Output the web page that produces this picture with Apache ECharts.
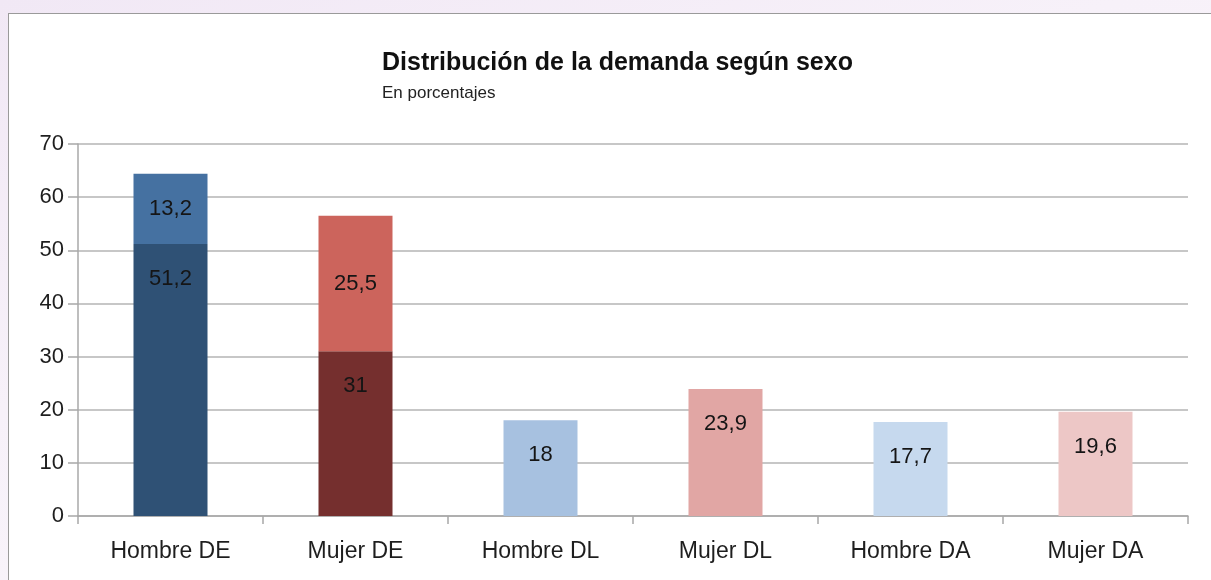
<!DOCTYPE html>
<html>
<head>
<meta charset="utf-8">
<title>Distribución de la demanda según sexo</title>
<script src="https://cdn.jsdelivr.net/npm/echarts@6/dist/echarts.min.js"></script>
<style>
  html, body { margin: 0; padding: 0; width: 1211px; height: 580px; overflow: hidden; }
  body { background: linear-gradient(160deg, #f1e8f5 0%, #f7f1f9 40%, #fbf8fc 100%); position: relative; }
  #panel { position: absolute; left: 8px; top: 13px; width: 1230px; height: 600px; background: #fff; border: 1px solid #9a9a9a; }
  #chart { position: absolute; left: 0; top: 0; width: 1211px; height: 580px; }
</style>
</head>
<body>
<div id="panel"></div>
<div id="chart"></div>
<script>
// datos
const categories = ["Hombre DE", "Mujer DE", "Hombre DL", "Mujer DL", "Hombre DA", "Mujer DA"];
const baseValues = [51.2, 31, 18, 23.9, 17.7, 19.6];
const topValues = [13.2, 25.5, null, null, null, null];
const baseColors = ["#2f5175", "#752f2e", "#a7c1e0", "#e1a6a4", "#c6d9ee", "#edc7c6"];
const topColors = ["#4571a1", "#cc645c", null, null, null, null];
const yTicks = [0, 10, 20, 30, 40, 50, 60, 70];

const font = "Liberation Sans, Arial, sans-serif";
const fmt = p => String(p.value).replace(".", ",");

const chart = echarts.init(document.getElementById("chart"));

chart.setOption({
  backgroundColor: "transparent",
  animation: false,
  title: {
    text: "Distribución de la demanda según sexo",
    subtext: "En porcentajes",
    left: 377,
    top: 46,
    itemGap: 9,
    textStyle: { fontFamily: font, fontSize: 25, fontWeight: "bold", color: "#111" },
    subtextStyle: { fontFamily: font, fontSize: 17, color: "#222" }
  },
  grid: { left: 78, right: 23, top: 144, bottom: 64 },
  xAxis: {
    type: "category",
    data: categories,
    boundaryGap: true,
    axisLine: { lineStyle: { color: "#a8a8a8", width: 1.5 } },
    axisTick: { show: true, length: 8, lineStyle: { color: "#a8a8a8", width: 1.5 } },
    axisLabel: { fontFamily: font, fontSize: 23, color: "#1e1e1e", margin: 24 }
  },
  yAxis: {
    type: "value",
    min: yTicks[0],
    max: yTicks[yTicks.length - 1],
    interval: 10,
    axisLine: { show: true, lineStyle: { color: "#a8a8a8", width: 1.5 } },
    axisTick: { show: true, inside: false, length: 10, lineStyle: { color: "#a8a8a8", width: 1.5 } },
    axisLabel: { fontFamily: font, fontSize: 22, color: "#1e1e1e", margin: 14 },
    splitLine: { lineStyle: { color: "#b4b4b4", width: 1.5 } }
  },
  series: [
    {
      type: "bar",
      stack: "total",
      barWidth: "40%",
      data: baseValues.map((v, i) => ({ value: v, itemStyle: { color: baseColors[i] } })),
      label: {
        show: true,
        position: "insideTop",
        distance: 24,
        formatter: fmt,
        fontFamily: font,
        fontSize: 22,
        color: "#151515"
      }
    },
    {
      type: "bar",
      stack: "total",
      barWidth: "40%",
      data: topValues.map((v, i) => ({ value: v, itemStyle: { color: topColors[i] } })),
      label: {
        show: true,
        position: "inside",
        formatter: fmt,
        fontFamily: font,
        fontSize: 22,
        color: "#151515"
      }
    }
  ]
});
</script>
</body>
</html>
